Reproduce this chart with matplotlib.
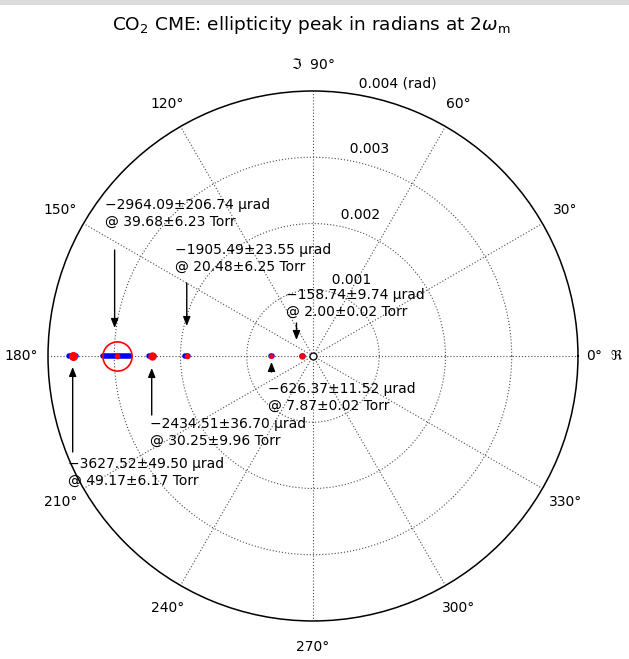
import numpy as np
import matplotlib
matplotlib.use('Agg')
import matplotlib.pyplot as plt
from matplotlib.patches import Rectangle
from matplotlib.transforms import offset_copy

plt.rcParams['font.family'] = ['DejaVu Sans']

# ellipticity peaks at 2w_m (urad) and CO2 pressures (Torr)
ellip_urad = [-158.74, -626.37, -1905.49, -2434.51, -2964.09, -3627.52]
ellip_err_urad = [9.74, 11.52, 23.55, 36.70, 206.74, 49.50]
press_torr = [2.00, 7.87, 20.48, 30.25, 39.68, 49.17]
press_err_torr = [0.02, 0.02, 6.25, 9.96, 6.23, 6.17]
circled_urad = -2964.09

ring_ticks = [0.001, 0.002, 0.003, 0.004]
angle_ticks = list(range(0, 360, 30))
rmax = 0.004

# layout of the labels (pixels, relative to each point)
dot_size = [3.5, 2.5, 3.0, 5.0, 3.0, 5.5]
text_off = [(-16, 53), (-3, -41), (-12, 98), (-2, -76), (-12, 143), (-5, -116)]
arrow_off = [(-6, 33, 16), (0, -16, -6), (0, 73, 30), (0, -59, -12), (-2, 106, 28), (0, -96, -11)]

fig = plt.figure(figsize=(6.29, 6.59), dpi=100)
fig.add_artist(Rectangle((0, 1 - 5 / 659), 1, 5 / 659, transform=fig.transFigure,
                         color='#dcdcdc', lw=0))

ax = fig.add_axes([0.0763, 0.0577, 0.8426, 0.8042], projection='polar')
ax.set_rlim(0, rmax)
ax.set_rgrids(ring_ticks[:-1], labels=[''] * 3)
ax.set_thetagrids(angle_ticks, labels=[''] * len(angle_ticks))
ax.grid(True, color='0.3', linestyle=(0, (1, 1.8)), linewidth=0.8)
ax.spines['polar'].set_linewidth(1.1)
ax.set_axisbelow(True)

# radial labels at 82 deg like MATLAB polar
for r in ring_ticks:
    lab = '  %g' % r
    if r == rmax:
        lab = '  0.004 (rad)'
    ax.text(np.deg2rad(82), r + rmax / 80, lab, ha='left', va='bottom', fontsize=10)

for a in angle_ticks:
    lab = '%d°' % a
    if a == 0:
        lab = r'0°  $\Re$'
    elif a == 90:
        lab = r'$\Im$  90°'
    ax.text(np.deg2rad(a), rmax * 1.1, lab, ha='center', va='center',
            fontsize=10, clip_on=False)

vals = np.array(ellip_urad) * 1e-6
errs = np.array(ellip_err_urad) * 1e-6
theta = np.where(vals < 0, np.pi, 0.0)
rad = np.abs(vals)

ax.plot(0, 0, 'o', mfc='white', mec='k', ms=5, mew=0.9, zorder=3)

for i in range(len(vals)):
    ax.plot([theta[i]] * 2, [rad[i] - errs[i], rad[i] + errs[i]], '-', color='blue',
            lw=4, solid_capstyle='round', zorder=3)
    ax.plot(theta[i], rad[i], 'o', color='red', ms=dot_size[i], zorder=4)

    lab = '%.2f±%.2f µrad\n@ %.2f±%.2f Torr' % (ellip_urad[i], ellip_err_urad[i],
                                                press_torr[i], press_err_torr[i])
    lab = lab.replace('-', '−')
    ax.annotate(lab, xy=(theta[i], rad[i]), xytext=text_off[i], textcoords='offset pixels',
                ha='left', va='center', fontsize=10, linespacing=1.25, annotation_clip=False)

    dx, y0, y1 = arrow_off[i]
    start = offset_copy(ax.transData, fig=fig, x=dx, y=y0, units='dots')
    tip = offset_copy(ax.transData, fig=fig, x=dx, y=y1, units='dots')
    ax.annotate('', xy=(theta[i], rad[i]), xycoords=tip,
                xytext=(theta[i], rad[i]), textcoords=start,
                arrowprops=dict(arrowstyle='-|>,head_length=0.45,head_width=0.18',
                                color='k', lw=1, shrinkA=0, shrinkB=0, mutation_scale=12),
                annotation_clip=False)

c = np.abs(circled_urad) * 1e-6
ax.plot(np.pi, c, 'o', mfc='none', mec='red', ms=21, mew=1.2, zorder=5)

fig.text(0.495, 1 - 30 / 659, r'CO$_2$ CME: ellipticity peak in radians at 2$\omega_\mathrm{m}$',
         ha='center', va='baseline', fontsize=13.3)

fig.savefig('out.png', dpi=100)
